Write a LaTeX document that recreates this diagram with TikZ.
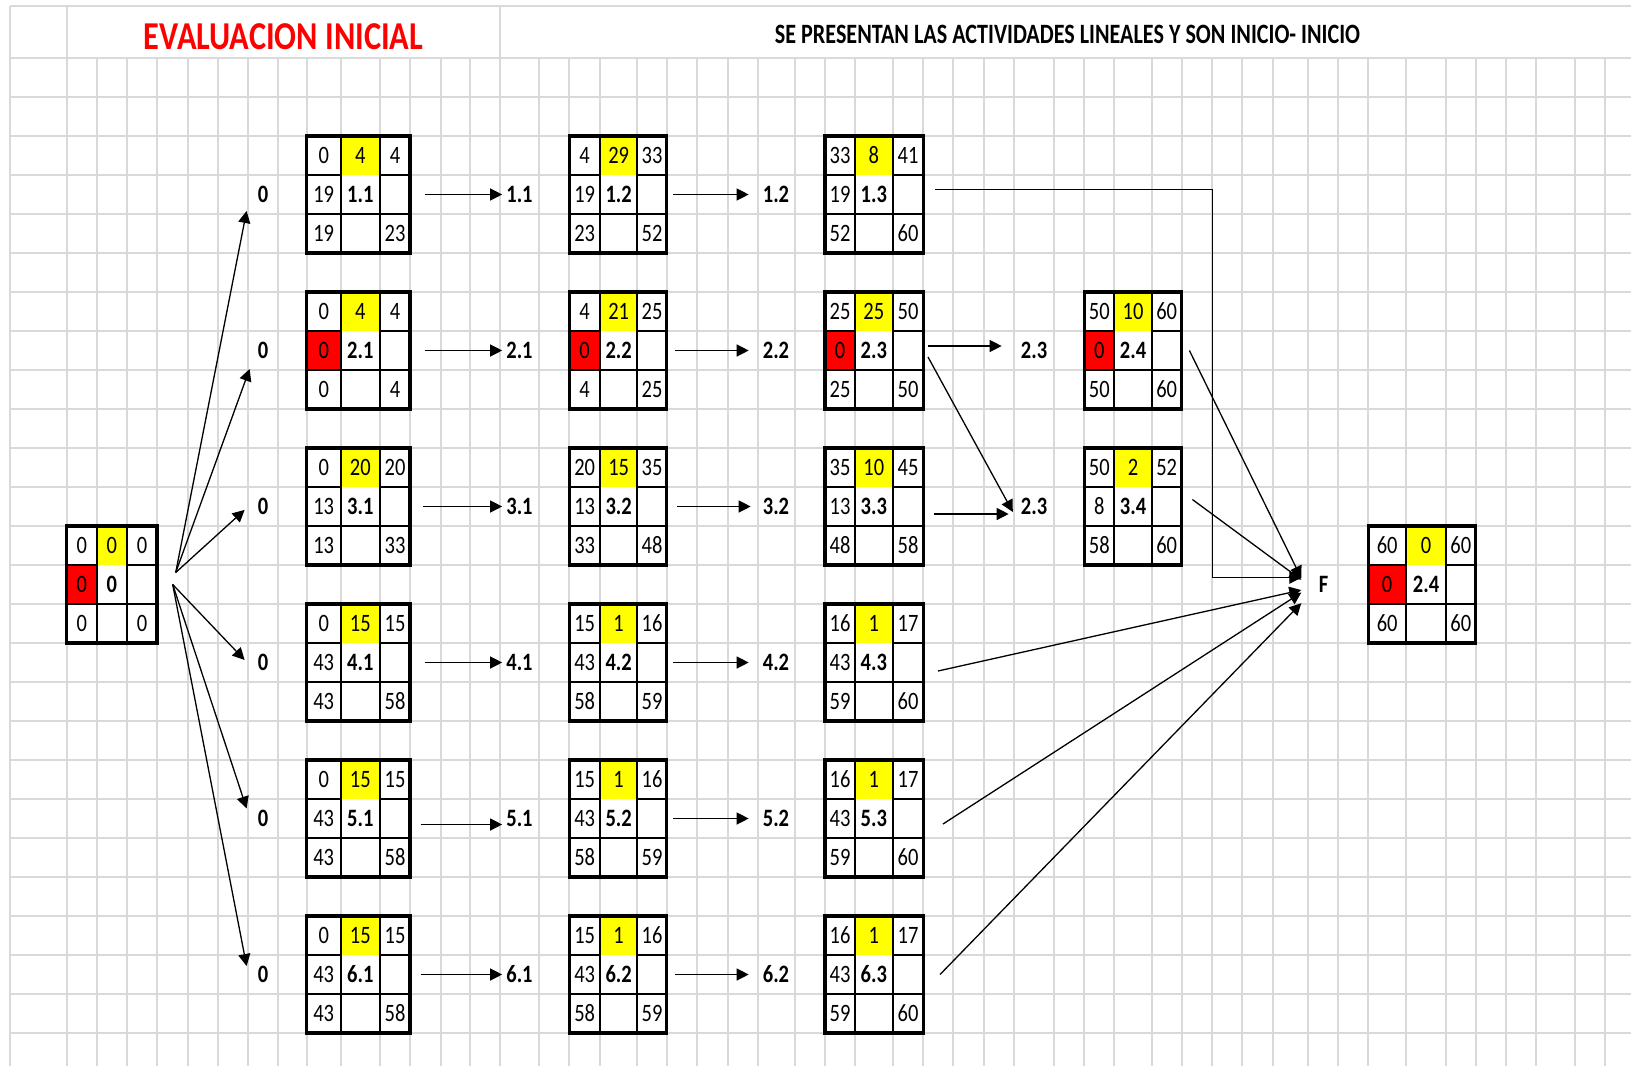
\documentclass[tikz,border=0pt]{standalone}
\usepackage{fontspec}
\setmainfont{Carlito}[FakeStretch=0.82]
\newfontfamily\headfont{Carlito}[FakeStretch=0.79]
\usetikzlibrary{arrows.meta, positioning, fit}
\definecolor{gridgray}{RGB}{217,217,217}
\definecolor{hiyellow}{RGB}{255,255,0}
\definecolor{hired}{RGB}{255,0,0}
\tikzset{
x=1pt, y=-1pt, % pixel coordinates of the sheet, y going down
gridline/.style={gridgray, line width=2pt}, % the light lines of the sheet
boxframe/.style={draw, line width=3.4pt, inner sep=0pt}, % outer border of a box
cellline/.style={line width=1.8pt}, % inner lines of a box
num/.style={font=\fontsize{25}{25}\selectfont, inner sep=0pt}, % numbers in the cells
numb/.style={num, font=\fontsize{25}{25}\selectfont\bfseries}, % activity in the middle cell
lbl/.style={font=\fontsize{25}{25}\selectfont\bfseries, inner sep=4pt}, % labels between the boxes
arr/.style={-{Triangle[length=12pt, width=12pt]}, line width=1.3pt}, % connectors
}
% columns of the boxes
\def\colsS{66.7/96.7/127/157}
\def\colsA{306.7/340.7/380/410}
\def\colsB{569.3/600/637.3/666.7}
\def\colsC{825/855/892.7/923.3}
\def\colsD{1084.3/1114.3/1151.7/1181.7}
\def\colsF{1368.3/1406/1446/1475.7}
\def\getcols#1/#2/#3/#4\relax{\def\cA{#1}\def\cB{#2}\def\cC{#3}\def\cD{#4}}
\def\getvals#1/#2/#3/#4/#5/#6/#7\relax{\def\vtl{#1}\def\vtm{#2}\def\vtr{#3}\def\vml{#4}\def\vmm{#5}\def\vbl{#6}\def\vbr{#7}}
% #1 fill of the left middle cell, #2 name, #3 columns, #4 top, #5 values
\newcommand{\actbox}[5][white]{%
\expandafter\getcols#3\relax
\getvals#5\relax
\pgfmathsetmacro\rA{#4}\pgfmathsetmacro\rB{#4+39}\pgfmathsetmacro\rC{#4+78}\pgfmathsetmacro\rD{#4+117}
\fill[white] (\cA,\rA) rectangle (\cD,\rD);
\fill[hiyellow] (\cB,\rA) rectangle (\cC,\rB);
\fill[#1] (\cA,\rB) rectangle (\cB,\rC);
\draw[cellline] (\cB,\rA) -- (\cB,\rD) (\cC,\rA) -- (\cC,\rD) (\cA,\rB) -- (\cB,\rB) (\cC,\rB) -- (\cD,\rB) (\cA,\rC) -- (\cD,\rC);
\node[boxframe, fit={(\cA,\rA) (\cD,\rD)}] (#2) {};
\node[num] at ({(\cA+\cB)/2},{(\rA+\rB)/2}) (#2-tl) {\vtl};
\node[num] at ({(\cB+\cC)/2},{(\rA+\rB)/2}) (#2-tm) {\vtm};
\node[num] at ({(\cC+\cD)/2},{(\rA+\rB)/2}) (#2-tr) {\vtr};
\node[num] at ({(\cA+\cB)/2},{(\rB+\rC)/2}) (#2-ml) {\vml};
\node[numb] at ({(\cB+\cC)/2},{(\rB+\rC)/2}) (#2-mm) {\vmm};
\node[num] at ({(\cA+\cB)/2},{(\rC+\rD)/2}) (#2-bl) {\vbl};
\node[num] at ({(\cC+\cD)/2},{(\rC+\rD)/2}) (#2-br) {\vbr};
}

\begin{document}
\begin{tikzpicture}
\fill[white] (0,0) rectangle (1631,1066);
\useasboundingbox (0,0) rectangle (1631,1066);

% sheet
\draw[gridline] (10,5.7) -- (1631,5.7) (10,5.7) -- (10,1066) (66.7,5.7) -- (66.7,58) (500,5.7) -- (500,58);
\foreach \gx in {66.7,96.7,127,157,187.7,217.7,247.7,278.3,306.7,340.7,380,410,440.7,470,500,539,569.3,600,637.3,666.7,697.3,727.7,757.7,795,825,855,892.7,923.3,953.3,984,1014,1054,1084.3,1114.3,1151.7,1181.7,1212.3,1242.3,1272.7,1308.3,1338.3,1368.3,1406,1446,1475.7,1505.7,1536,1575,1605}
  \draw[gridline] (\gx,58) -- (\gx,1066);
\foreach \k in {0,...,25}
  \draw[gridline] (10,{58+39*\k}) -- (1631,{58+39*\k});

\node[font=\fontsize{39.5}{40}\selectfont\bfseries, text=hired] at (283.5,36.5) (title) {EVALUACION INICIAL};
\node[font=\headfont\fontsize{28}{28}\selectfont\bfseries] at (1067.5,34.5) (subtitle) {SE PRESENTAN LAS ACTIVIDADES LINEALES Y SON INICIO- INICIO};

% boxes
\actbox[hired]{bS}{\colsS}{526}{0/0/0/0/0/0/0}
\actbox{b11}{\colsA}{136}{0/4/4/19/1.1/19/23}
\actbox{b12}{\colsB}{136}{4/29/33/19/1.2/23/52}
\actbox{b13}{\colsC}{136}{33/8/41/19/1.3/52/60}
\actbox[hired]{b21}{\colsA}{292}{0/4/4/0/2.1/0/4}
\actbox[hired]{b22}{\colsB}{292}{4/21/25/0/2.2/4/25}
\actbox[hired]{b23}{\colsC}{292}{25/25/50/0/2.3/25/50}
\actbox[hired]{b24}{\colsD}{292}{50/10/60/0/2.4/50/60}
\actbox{b31}{\colsA}{448}{0/20/20/13/3.1/13/33}
\actbox{b32}{\colsB}{448}{20/15/35/13/3.2/33/48}
\actbox{b33}{\colsC}{448}{35/10/45/13/3.3/48/58}
\actbox{b34}{\colsD}{448}{50/2/52/8/3.4/58/60}
\actbox{b41}{\colsA}{604}{0/15/15/43/4.1/43/58}
\actbox{b42}{\colsB}{604}{15/1/16/43/4.2/58/59}
\actbox{b43}{\colsC}{604}{16/1/17/43/4.3/59/60}
\actbox{b51}{\colsA}{760}{0/15/15/43/5.1/43/58}
\actbox{b52}{\colsB}{760}{15/1/16/43/5.2/58/59}
\actbox{b53}{\colsC}{760}{16/1/17/43/5.3/59/60}
\actbox{b61}{\colsA}{916}{0/15/15/43/6.1/43/58}
\actbox{b62}{\colsB}{916}{15/1/16/43/6.2/58/59}
\actbox{b63}{\colsC}{916}{16/1/17/43/6.3/59/60}
\actbox[hired]{bF}{\colsF}{526}{60/0/60/0/2.4/60/60}

% labels
\node[lbl] at (263,194.5) (z1) {0};
\node[lbl] at (263,350.5) (z2) {0};
\node[lbl] at (263,506.5) (z3) {0};
\node[lbl] at (263,662.5) (z4) {0};
\node[lbl] at (263,818.5) (z5) {0};
\node[lbl] at (263,974.5) (z6) {0};
\node[lbl] at (519.5,194.5) (l11) {1.1};
\node[lbl] at (519.5,350.5) (l21) {2.1};
\node[lbl] at (519.5,506.5) (l31) {3.1};
\node[lbl] at (519.5,662.5) (l41) {4.1};
\node[lbl] at (519.5,818.5) (l51) {5.1};
\node[lbl] at (519.5,974.5) (l61) {6.1};
\node[lbl] at (776,194.5) (l12) {1.2};
\node[lbl] at (776,350.5) (l22) {2.2};
\node[lbl] at (776,506.5) (l32) {3.2};
\node[lbl] at (776,662.5) (l42) {4.2};
\node[lbl] at (776,818.5) (l52) {5.2};
\node[lbl] at (776,974.5) (l62) {6.2};
\node[lbl] at (1034,350.5) (l23a) {2.3};
\node[lbl] at (1034,506.5) (l23b) {2.3};
\node[lbl, minimum size=44pt] at (1323.5,584.5) (lF) {F};

% connectors
\coordinate (fanA) at ([xshift=17pt, yshift=12pt]bS.east);
\coordinate (fanB) at ([xshift=14pt]bS.east);
\draw[arr] (fanA) -- ([xshift=-7pt, yshift=-4pt]z1.south west);
\draw[arr] (fanA) -- ([xshift=-4pt, yshift=-6pt]z2.south west);
\draw[arr] (fanA) -- ([xshift=-9pt]z3.200);
\draw[arr] (fanB) -- ([xshift=-9pt]z4.165);
\draw[arr] (fanB) -- ([xshift=-7pt, yshift=-2.5pt]z5.north west);
\draw[arr] (fanB) -- ([xshift=-7pt, yshift=-4pt]z6.north west);

\draw[arr] ([xshift=13pt]b11.east) -- (l11);
\draw[arr] ([xshift=13pt]b21.east) -- (l21);
\draw[arr] ([xshift=11pt]b31.east) -- (l31);
\draw[arr] ([xshift=13pt]b41.east) -- (l41);
\draw[arr] ([xshift=9pt, yshift=-6pt]b51.east) -- ([yshift=-6pt]l51.west);
\draw[arr] ([xshift=9pt]b61.east) -- (l61);

\draw[arr, shorten >=10pt] ([xshift=5pt]b12.east) -- (l12);
\draw[arr, shorten >=10pt] ([xshift=7pt]b22.east) -- (l22);
\draw[arr, shorten >=8pt] ([xshift=9pt]b32.east) -- (l32);
\draw[arr, shorten >=10pt] ([xshift=5pt]b42.east) -- (l42);
\draw[arr, shorten >=10pt] ([xshift=5pt]b52.east) -- (l52);
\draw[arr, shorten >=10pt] ([xshift=7pt]b62.east) -- (l62);

\draw[arr, shorten >=15pt] ([xshift=3pt, yshift=4.5pt]b23.east) -- ([yshift=4.5pt]l23a.west);
\draw[arr, shorten >=8pt] ([xshift=3pt, yshift=-6.5pt]b23.east) -- (l23b.south west);
\draw[arr, shorten >=8pt] ([xshift=9pt, yshift=-7.5pt]b33.east) -- ([yshift=-7.5pt]l23b.west);

\coordinate (bend13) at (1212.3,577.7);
\draw[arr] ([xshift=10pt, yshift=5pt]b13.east) -| (bend13) -- (bend13 -| lF.west);
\draw[arr] ([xshift=6pt]b24.east) -- (lF.164);
\draw[arr] ([xshift=9pt, yshift=7pt]b34.east) -- (lF.168);
\draw[arr] ([xshift=13pt, yshift=-8.5pt]b43.east) -- (lF.194);
\draw[arr] ([xshift=18pt, yshift=-5.5pt]b53.east) -- (lF.200);
\draw[arr] ([xshift=15pt]b63.east) -- (lF.220);

\end{tikzpicture}
\end{document}
